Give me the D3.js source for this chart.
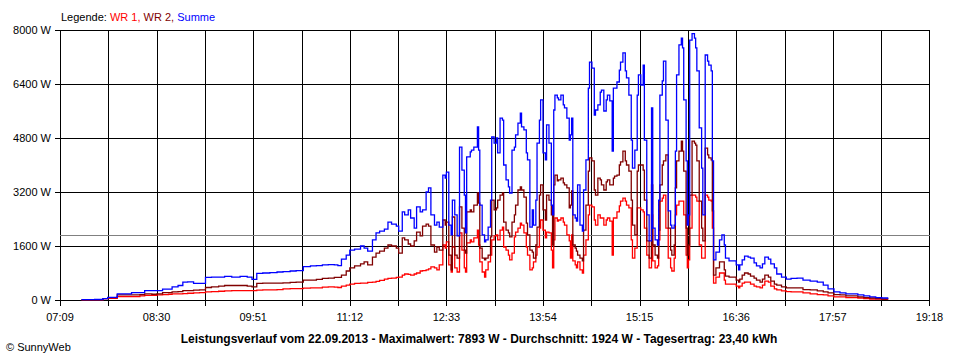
<!DOCTYPE html>
<html><head><meta charset="utf-8">
<script src="https://cdn.jsdelivr.net/npm/d3@7"></script>
<style>
body{margin:0;background:#fff;}
svg{display:block;font-family:"Liberation Sans",Arial,sans-serif;}
</style></head><body>
<svg id="chart" width="960" height="360"></svg>
<script>
// time of each sample, minutes since midnight
const minuteOfDay = [
447,458,465,469,473,477,484,489,496,500,506,510,515,520,523,528,532,536,541,546,
551,556,562,567,573,580,586,590,594,599,605,611,616,622,627,633,639,644,649,654,
659,662,665,669,672,676,681,684,687,691,694,697,701,704,707,711,713,716,718,721,
723,726,728,731,733,736,738,740,743,745,747,
750,752,753,755,757,758,760,762,764,766,
768,769,770,773,774,776,779,780,781,783,
785,786,788,790,791,793,795,796,798,800,
801,803,805,806,808,810,811,813,815,816,
818,820,821,823,825,826,828,829,831,832,
834,836,837,839,841,842,843,844,846,847,
849,851,852,854,856,857,858,859,861,862,
863,865,867,868,870,872,873,875,877,878,
880,882,883,885,887,888,890,892,893,894,
896,898,899,901,903,904,906,908,909,911,
913,914,916,918,919,921,923,925,926,928,
930,931,932,934,935,937,939,941,942,944,
945,946,948,950,951,952,954,955,956,957,
959,961,962,963,965,967,968,970,972,973,
975,976,
977,979,982,984,986,987,990,993,996,998,
999,1001,1003,1006,1008,1011,1013,1016,1018,1020,
1023,1025,1028,1030,1034,1038,1042,1047,1052,1058,
1064,1069,1073,1078,1083,1088,1093,1098,1103,1108,
1113,1118,1123];

const summe = [
10,15,40,80,80,180,180,220,220,280, 280,280,320,320,390,430,530,540,490,490,
670,680,680,700,680,700,680,610,790,800, 810,830,840,860,870,990,1010,1020,1040,1050,
1040,1020,1210,1330,1480,1510,1600,1540,1450,1780, 1990,2040,2100,2310,2250,2190,2040,2610,2520,2670,
2430,2130,2760,2610,2670,3200,3320,2520,2220,2310, 2160,
3700,3610,3790,2220,1930,2960,2520,1900,4530,3850,
3110,1990,4240,4390,4440,4530,5130,4440,2810,1930,
1720,1780,2160,2960,4830,4650,4800,4360,5390,5330,
4000,3560,3350,3170,4440,4530,4890,5240,5540,5130,
5040,4360,4150,2160,2670,2220,2960,4650,5330,5930,
4360,4150,5190,4650,2810,2520,5630,6070,5990,5930,
6070,5780,5690,5390,4740,4890,5390,2520,2430,2340,
3410,2220,2040,3260,4150,6280,7050,6870,5480,5630,
5780,6160,6220,5600,5930,6070,5900,4410,6280,6280,
6460,6810,7050,7320,6790,6580,6070,4740,3910,4440,
6070,6670,6370,6960,4740,2520,1750,5690,2130,1780,
1630,2960,6070,6490,7080,5330,2640,2220,2130,2220,
4410,6670,7560,7760,7470,5930,4120,2220,2520,7700,
7890,7760,7470,6790,5100,3910,2520,7260,7080,6960,
6790,4120,
1190,1420,1780,1930,1630,1240,1160,1160,1040,890,
1040,1190,1300,1270,1240,1100,1010,950,1070,1270,
1210,1070,950,770,680,620,640,650,590,560,
530,440,330,240,210,180,180,150,120,90,
70,60,30];

const wr2 = [
5,5,40,70,70,150,150,150,160,180, 170,180,220,220,240,250,280,280,290,300,
370,390,410,430,430,430,410,390,490,500, 500,500,510,520,530,590,590,610,640,650,
670,670,740,860,950,1010,1070,1130,1040,1270, 1390,1450,1540,1630,1600,1540,1390,1840,1780,1660,
1600,1750,2010,1900,2190,2250,2190,1630,1420,1570, 1480,
2370,2220,2310,1330,890,2460,1330,1240,2760,2130,
1480,1390,2610,2670,2610,2810,3170,2870,1540,1240,
1190,1240,1330,1870,2960,2670,2730,2960,3110,3170,
2310,2070,1990,1870,2310,2520,2810,3260,3350,3260,
3050,2280,1930,1480,1420,1240,1630,2160,3110,3410,
2670,2370,3110,2960,2520,1630,3410,3700,3530,3560,
3610,3470,3410,3320,2730,2810,3230,1630,1540,1450,
1330,1240,1160,2070,2810,3820,4210,4120,3260,3110,
3610,3560,3410,3260,3500,3560,3410,3410,3610,3670,
3700,4000,4090,4410,4120,4000,3820,2960,2220,1930,
3820,4000,4000,3850,2960,1750,1240,3410,1630,1330,
1240,2070,3410,4000,4120,4300,2130,1480,1330,1630,
3320,4120,4410,4710,4410,3820,2130,1330,1630,3110,
4710,4650,4590,4120,2930,2130,1750,4500,4300,4210,
4150,2640,
740,950,1130,1130,890,710,680,680,590,530,
620,740,800,770,710,650,590,530,620,740,
680,560,470,440,390,360,360,360,310,300,
270,240,210,160,150,120,120,90,70,60,
40,30,15];

const wr1 = [
5,5,40,50,50,100,100,100,120,140, 140,150,160,170,180,180,190,200,210,220,
240,250,260,270,280,280,280,280,290,300, 300,310,330,340,340,350,360,360,380,390,
380,370,410,440,470,490,500,500,520,530, 550,580,620,640,650,670,680,740,770,760,
740,770,800,860,870,890,920,980,950,890, 1040,
1630,1540,1720,1040,830,1570,950,830,1990,1480,
950,830,1690,1780,1720,1840,2070,1630,1130,830,
680,890,1130,1330,1780,1900,1930,1780,2070,2160,
1570,1480,1330,1190,1390,1870,2010,2130,2280,2220,
1990,1570,1330,890,950,1130,1330,1570,2130,2370,
2070,1840,2010,1990,1480,950,1780,2430,2340,2370,
2430,2310,2220,1930,1750,1240,1930,1160,1040,950,
1130,890,800,1330,1780,2520,2810,2760,2370,2220,
2520,2430,2430,2220,2370,2430,2340,1330,2430,2430,
2610,2790,2930,3020,2930,2810,2730,1780,1240,1540,
2730,2730,2670,2610,2130,1330,950,2520,1160,950,
1010,1780,2930,3020,3110,2130,1240,950,860,1240,
2520,2810,2930,2930,2930,2520,1330,950,1190,2130,
3110,3110,3050,2930,1630,1240,1240,3110,3050,2960,
2930,2130,
500,680,800,800,590,470,470,470,410,360,
410,500,530,530,470,410,390,360,440,560,
530,410,330,300,270,250,240,240,210,180,
160,150,120,90,90,70,70,60,40,30,
30,20,10];

const yTickValues = [0, 1600, 3200, 4800, 6400, 8000];
const xTickLabels = ["07:09","08:30","09:51","11:12","12:33","13:54","15:15","16:36","17:57","19:18"];
const averageW = 1924;
const seriesNames = ["WR 1", "WR 2", "Summe"];
const seriesColors = ["#ff0000", "#800000", "#0000ff"];
const footerText = "Leistungsverlauf vom 22.09.2013 - Maximalwert: 7893 W - Durchschnitt: 1924 W - Tagesertrag: 23,40 kWh";
const creditText = "\u00a9 SunnyWeb";

const toMin = s => { const p = s.split(":").map(Number); return p[0] * 60 + p[1]; };
const t0 = toMin(xTickLabels[0]), t1 = toMin(xTickLabels[xTickLabels.length - 1]);

const x = d3.scaleLinear().domain([t0, t1]).range([60, 929.4]);
const y = d3.scaleLinear().domain([0, 8000]).range([300, 30]);
const crisp = v => Math.round(v) + 0.5;

const svg = d3.select("#chart");
svg.append("rect").attr("width", 960).attr("height", 360).attr("fill", "#fff");

// vertical grid / ticks (every half label step)
const nSteps = (xTickLabels.length - 1) * 2;
const gridTimes = d3.range(nSteps + 1).map(i => t0 + i * (t1 - t0) / nSteps);
const g = svg.append("g").attr("shape-rendering", "crispEdges");
g.selectAll("line.v").data(gridTimes).join("line")
  .attr("x1", d => crisp(x(d))).attr("x2", d => crisp(x(d)))
  .attr("y1", y(8000)).attr("y2", y(0) + 6)
  .attr("stroke", "#000").attr("stroke-width", 1);
g.selectAll("line.h").data(yTickValues).join("line")
  .attr("x1", 55).attr("x2", crisp(x(t1)) + 0.5)
  .attr("y1", d => crisp(y(d))).attr("y2", d => crisp(y(d)))
  .attr("stroke", "#000").attr("stroke-width", 1);

// average line
g.append("line")
  .attr("x1", 60).attr("x2", crisp(x(t1)))
  .attr("y1", crisp(y(averageW))).attr("y2", crisp(y(averageW)))
  .attr("stroke", "#808080").attr("stroke-width", 1);

// y labels
svg.selectAll("text.yl").data(yTickValues).join("text")
  .attr("x", 51).attr("y", d => y(d) + 4)
  .attr("text-anchor", "end").attr("font-size", 11).attr("fill", "#000")
  .text(d => d + " W");

// x labels
svg.selectAll("text.xl").data(xTickLabels).join("text")
  .attr("x", d => x(toMin(d))).attr("y", 321)
  .attr("text-anchor", "middle").attr("font-size", 11).attr("fill", "#000")
  .text(d => d);

// lines
const allSeries = [wr1, wr2, summe];
const line = d3.line().curve(d3.curveStepAfter)
  .x((d, i) => x(minuteOfDay[i])).y(d => y(d));
allSeries.forEach((s, k) => {
  svg.append("path").datum(s)
    .attr("d", line)
    .attr("fill", "none")
    .attr("stroke", seriesColors[k])
    .attr("stroke-width", 1.3);
});

// legend
const leg = svg.append("text").attr("x", 61).attr("y", 20.5).attr("font-size", 11);
leg.append("tspan").attr("fill", "#000").text("Legende: ");
seriesNames.forEach((n, k) => {
  leg.append("tspan").attr("fill", seriesColors[k]).text(n + (k < seriesNames.length - 1 ? ", " : ""));
});

// footer
svg.append("text").attr("x", 479).attr("y", 343)
  .attr("text-anchor", "middle").attr("font-size", 12).attr("font-weight", "bold")
  .attr("fill", "#000").text(footerText);
svg.append("text").attr("x", 6).attr("y", 351)
  .attr("font-size", 11).attr("fill", "#000").text(creditText);
</script>
</body></html>
